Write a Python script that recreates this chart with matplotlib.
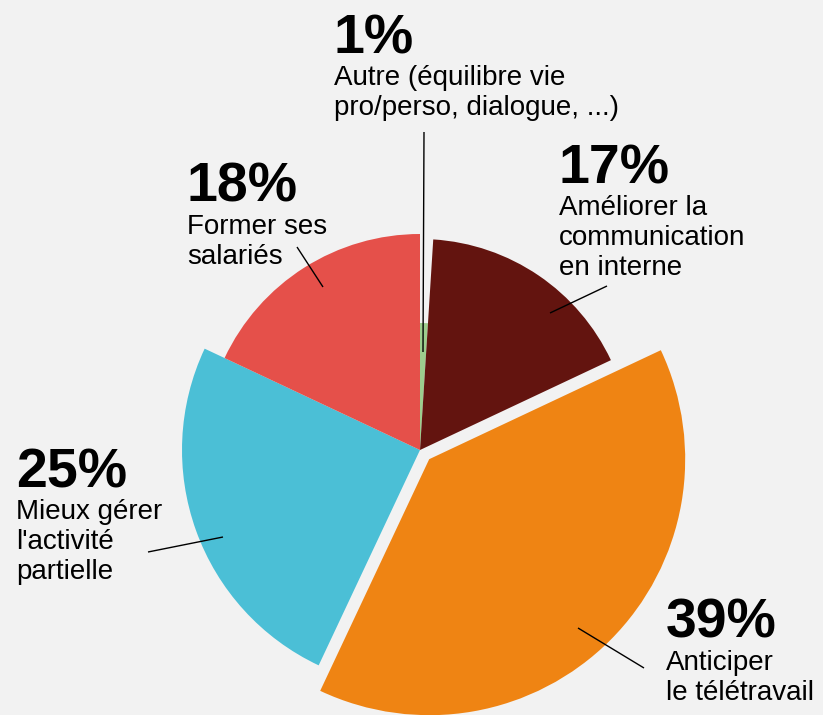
import numpy as np
import matplotlib.pyplot as plt
from matplotlib.patches import Wedge

# survey answers, clockwise from 12 o'clock
labels = [
    'Autre (équilibre vie\npro/perso, dialogue, ...)',
    'Améliorer la\ncommunication\nen interne',
    'Anticiper\nle télétravail',
    "Mieux gérer\nl'activité\npartielle",
    'Former ses\nsalariés',
]
shares = [1, 17, 39, 25, 18]

# styling per slice
colors = ['#9dcd8d', '#63140f', '#ef8413', '#4bbfd6', '#e5504a']
radii = [127, 211, 256, 238, 216]
explode = [0, 0, 13, 0, 0]

# label anchor (x, baseline of the percentage) and leader line ends, in pixels from top-left
label_pos = [(334, 53), (559, 183), (666, 638), (16, 487), (187, 202)]
leaders = [
    ((424, 132), (423, 352)),
    ((607, 286), (550, 313)),
    ((644, 668), (578, 628)),
    ((148, 552), (223, 537)),
    ((297, 247), (323, 287)),
]

W, H = 823, 715
bg = '#f2f2f2'
center = (420, 450)
line_gap = 30

plt.rcParams['font.family'] = ['Liberation Sans', 'DejaVu Sans']

fig = plt.figure(figsize=(W / 100, H / 100), dpi=100)
fig.patch.set_facecolor(bg)
ax = fig.add_axes([0, 0, 1, 1])
ax.set_facecolor(bg)
ax.set_xlim(0, W)
ax.set_ylim(0, H)
ax.axis('off')

cx, cy = center[0], H - center[1]
start = 90.0
for v, col, r, ex in zip(shares, colors, radii, explode):
    sweep = 360.0 * v / sum(shares)
    t1, t2 = start - sweep, start
    mid = np.deg2rad((t1 + t2) / 2)
    c = (cx + ex * np.cos(mid), cy + ex * np.sin(mid))
    ax.add_patch(Wedge(c, r, t1, t2, facecolor=col, edgecolor='none'))
    start = t1

for (p0, p1) in leaders:
    ax.plot([p0[0], p1[0]], [H - p0[1], H - p1[1]], color='black', lw=1.0,
            solid_capstyle='butt')

for v, lab, (x, y) in zip(shares, labels, label_pos):
    ax.text(x, H - y, f'{v}%', fontsize=40, fontweight='bold', color='black',
            ha='left', va='baseline')
    for i, line in enumerate(lab.split('\n')):
        ax.text(x, H - y - 32 - line_gap * i, line, fontsize=20, color='black',
                ha='left', va='baseline')

fig.savefig('out.png', dpi=100, facecolor=bg)
